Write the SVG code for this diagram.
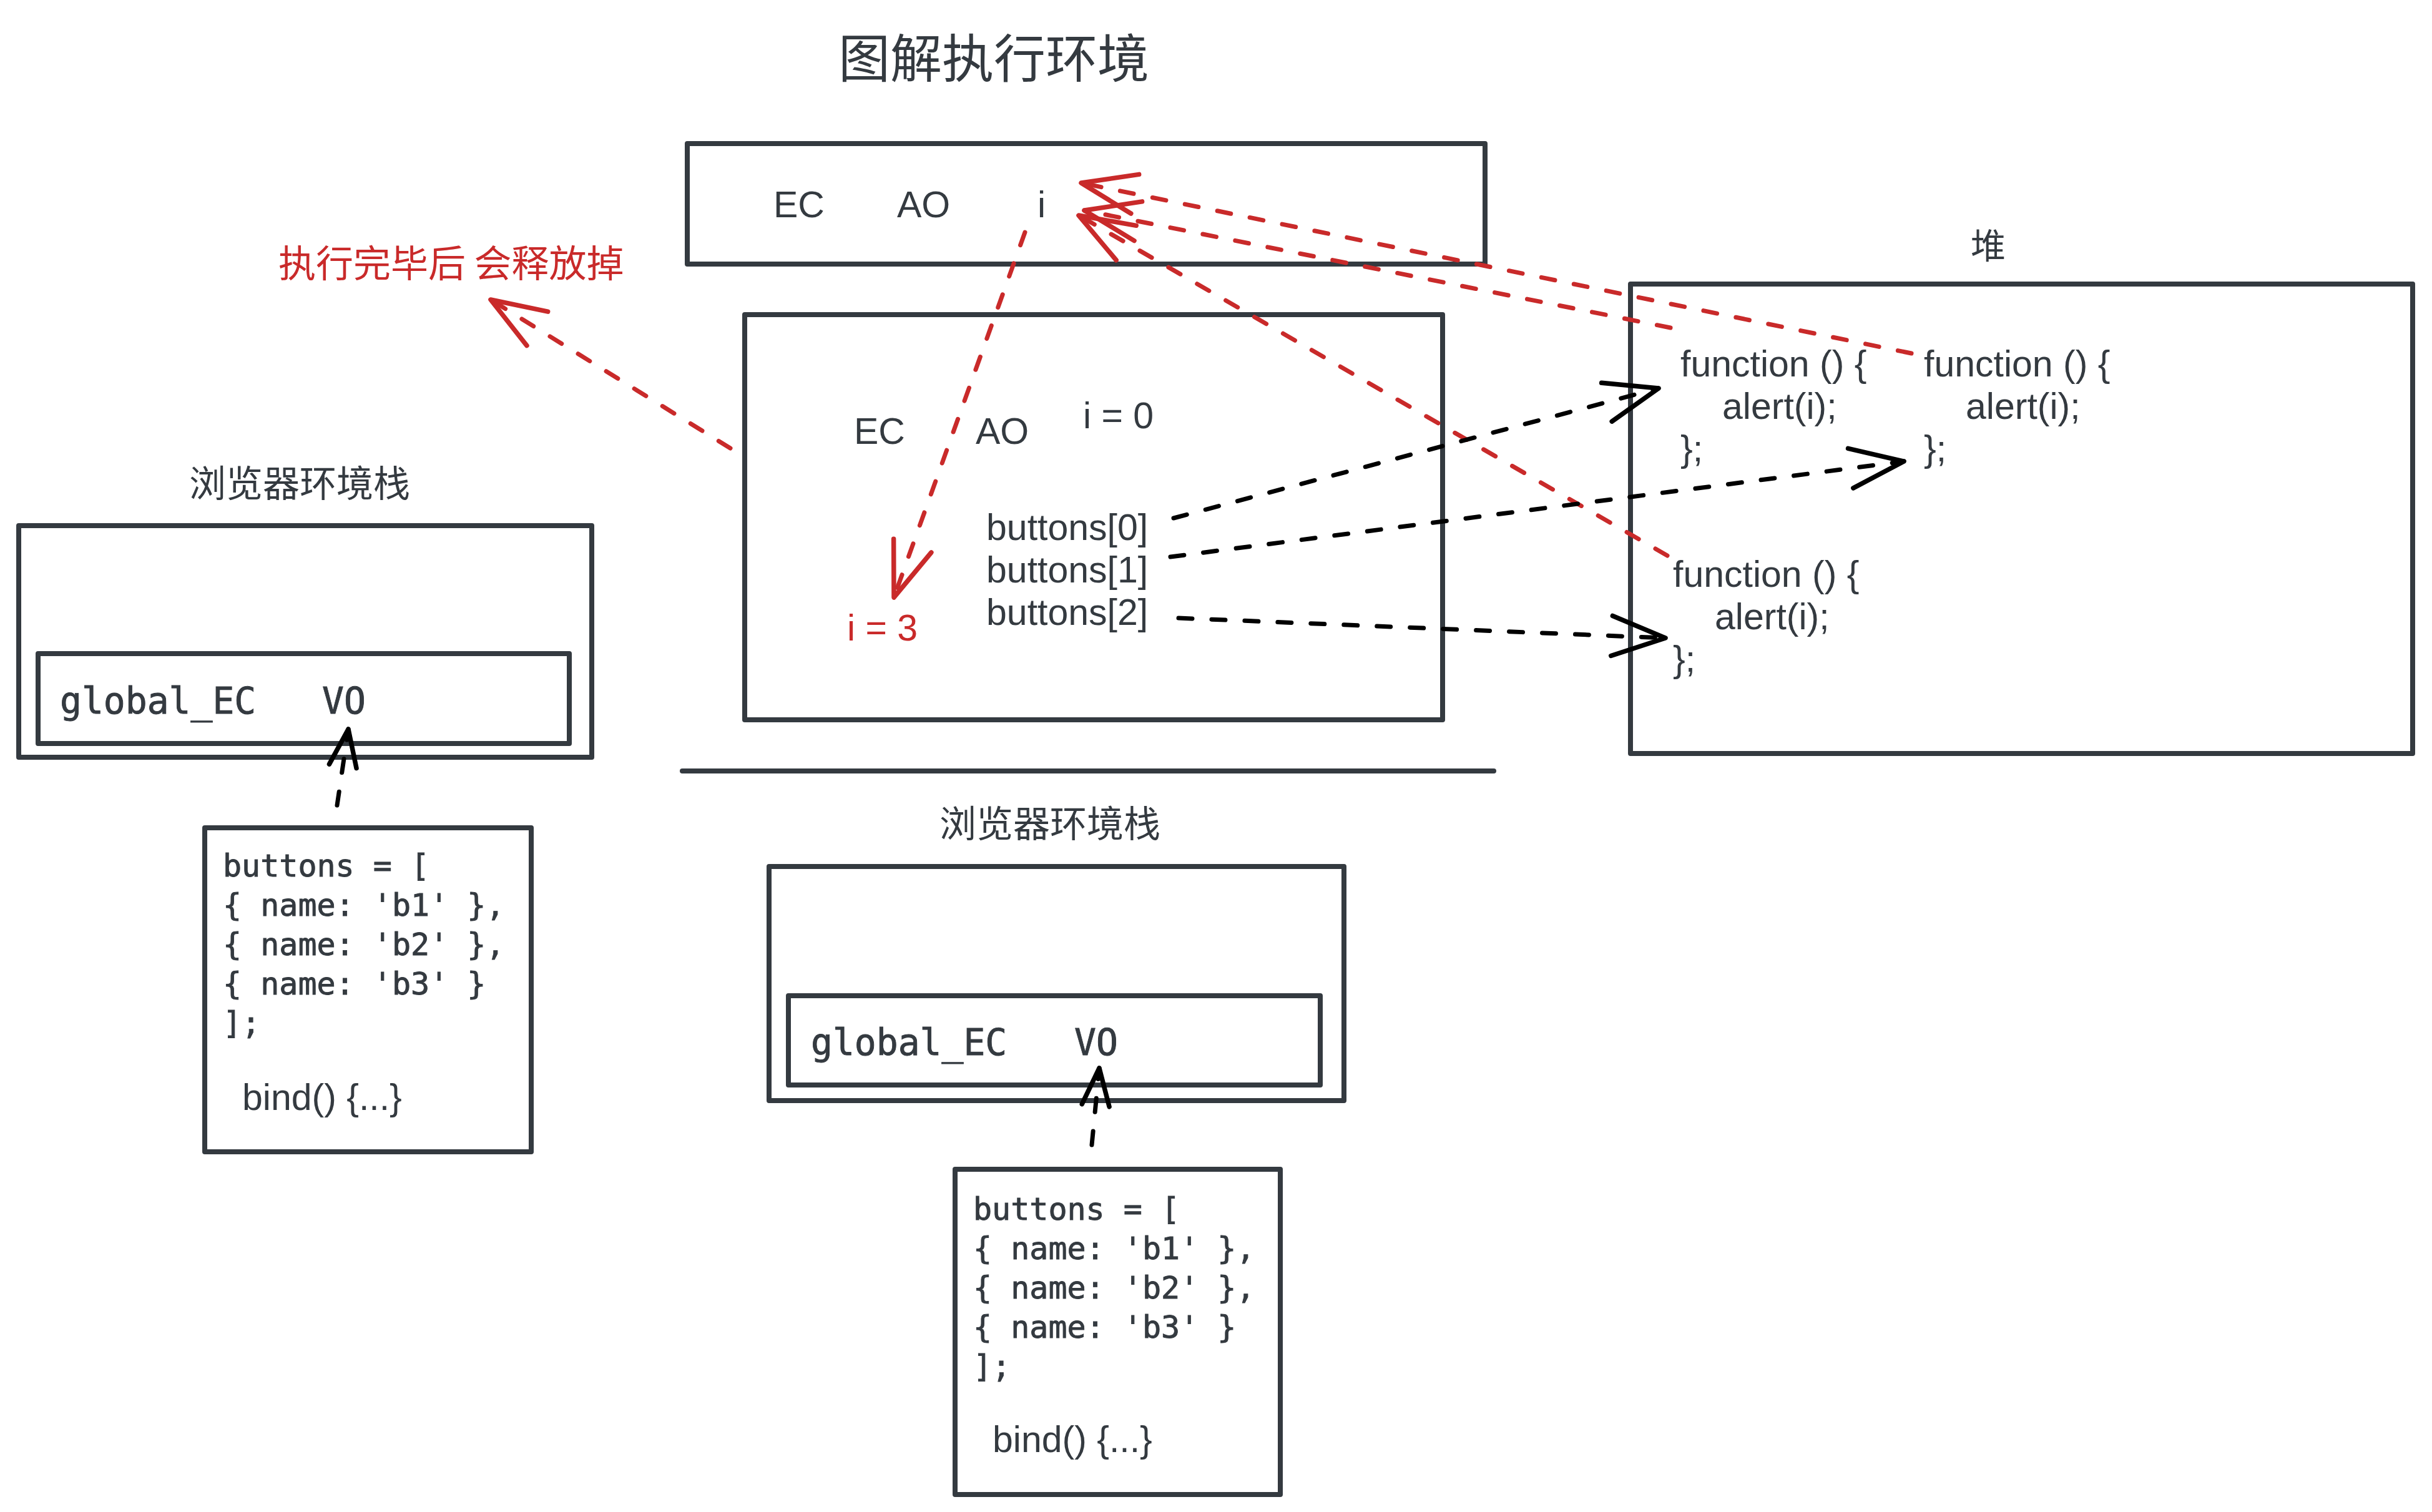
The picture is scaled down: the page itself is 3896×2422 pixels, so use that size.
<svg xmlns="http://www.w3.org/2000/svg" width="3896" height="2422" viewBox="0 0 3896 2422">
<style>
.box{fill:none;stroke:#343a40;stroke-width:8;stroke-linejoin:round;stroke-linecap:round}
.t{font-family:"Liberation Sans",Arial,sans-serif;font-size:59px;fill:#343a40}
.m{font-family:"DejaVu Sans Mono","Liberation Mono",monospace;fill:#343a40;stroke:#343a40;stroke-width:0.9}
.c{font-family:"Noto Sans CJK SC",sans-serif;fill:#343a40}
.red{fill:#c92a2a}
.dr{fill:none;stroke:#c92a2a;stroke-width:7;stroke-dasharray:22 31;stroke-linecap:round}
.db{fill:none;stroke:#000;stroke-width:7;stroke-dasharray:22 31;stroke-linecap:round}
</style>
<defs>
<marker id="ahR" markerUnits="userSpaceOnUse" orient="auto" overflow="visible" refX="0" refY="0" markerWidth="1" markerHeight="1">
<path d="M-88,-32 L0,0 L-88,32" fill="none" stroke="#c92a2a" stroke-width="7.5" stroke-dasharray="none" stroke-linecap="round" stroke-linejoin="round"/>
</marker>
<marker id="ahB" markerUnits="userSpaceOnUse" orient="auto" overflow="visible" refX="0" refY="0" markerWidth="1" markerHeight="1">
<path d="M-86,-32 L0,0 L-86,32" fill="none" stroke="#000" stroke-width="7.5" stroke-dasharray="none" stroke-linecap="round" stroke-linejoin="round"/>
</marker>
<marker id="ahBs" markerUnits="userSpaceOnUse" orient="auto" overflow="visible" refX="0" refY="0" markerWidth="1" markerHeight="1">
<path d="M-60,-22 L0,0 L-60,22" fill="none" stroke="#000" stroke-width="7.5" stroke-dasharray="none" stroke-linecap="round" stroke-linejoin="round"/>
</marker>
</defs>
<rect width="3896" height="2422" fill="#fff"/>

<g id="title"><text class="c" x="1343" y="124" font-size="83">图解执行环境</text></g>

<g id="release-note"><text class="c red" x="446" y="444" font-size="60">执行完毕后 会释放掉</text></g>

<g id="closure-ec">
<rect class="box" x="1101" y="230" width="1278" height="193"/>
<text class="t" x="1239" y="348">EC</text>
<text class="t" x="1437" y="348">AO</text>
<text class="t" x="1662" y="348">i</text>
</g>

<g id="bind-ec">
<rect class="box" x="1193" y="504" width="1118" height="649"/>
<text class="t" x="1368" y="711">EC</text>
<text class="t" x="1563" y="711">AO</text>
<text class="t" x="1735" y="686">i = 0</text>
<text class="t red" x="1357" y="1026">i = 3</text>
<text class="t" x="1580" y="865">buttons[0]</text>
<text class="t" x="1580" y="933">buttons[1]</text>
<text class="t" x="1580" y="1001">buttons[2]</text>
</g>

<g id="heap">
<text class="c" x="3157" y="414" font-size="56">堆</text>
<rect class="box" x="2612" y="455" width="1253" height="752"/>
<text class="t" x="2692" y="603">function () {</text>
<text class="t" x="2759" y="671">alert(i);</text>
<text class="t" x="2692" y="739">};</text>
<text class="t" x="3082" y="603">function () {</text>
<text class="t" x="3149" y="671">alert(i);</text>
<text class="t" x="3082" y="739">};</text>
<text class="t" x="2680" y="940">function () {</text>
<text class="t" x="2747" y="1008">alert(i);</text>
<text class="t" x="2680" y="1076">};</text>
</g>

<g id="stack-left">
<text class="c" x="303" y="796" font-size="59">浏览器环境栈</text>
<rect class="box" x="30" y="842" width="918" height="371"/>
<rect class="box" x="61" y="1047" width="851" height="144"/>
<text class="m" x="96" y="1143" font-size="58">global_EC</text>
<text class="m" x="516" y="1143" font-size="58">VO</text>
</g>

<g id="code-left">
<rect class="box" x="328" y="1326" width="523" height="519"/>
<text class="m" font-size="50"><tspan x="357" y="1404">buttons = [</tspan><tspan x="357" y="1467">{ name: 'b1' },</tspan><tspan x="357" y="1530">{ name: 'b2' },</tspan><tspan x="357" y="1593">{ name: 'b3' }</tspan><tspan x="357" y="1656">];</tspan></text>
<text class="t" x="388" y="1778" font-size="58">bind() {...}</text>
</g>

<g id="separator"><line class="box" x1="1093" y1="1235" x2="2393" y2="1235"/></g>

<g id="stack-bottom">
<text class="c" x="1505" y="1341" font-size="59">浏览器环境栈</text>
<rect class="box" x="1232" y="1388" width="921" height="375"/>
<rect class="box" x="1263" y="1595" width="852" height="143"/>
<text class="m" x="1299" y="1690" font-size="58">global_EC</text>
<text class="m" x="1721" y="1690" font-size="58">VO</text>
</g>

<g id="code-bottom">
<rect class="box" x="1530" y="1873" width="521" height="521"/>
<text class="m" font-size="50"><tspan x="1559" y="1954">buttons = [</tspan><tspan x="1559" y="2017">{ name: 'b1' },</tspan><tspan x="1559" y="2080">{ name: 'b2' },</tspan><tspan x="1559" y="2143">{ name: 'b3' }</tspan><tspan x="1559" y="2206">];</tspan></text>
<text class="t" x="1590" y="2326" font-size="58">bind() {...}</text>
</g>

<g id="connectors">
<path class="dr" d="M3062,566 L1732,293" marker-end="url(#ahR)"/>
<path class="dr" d="M2676,525 L1737,337" marker-end="url(#ahR)"/>
<path class="dr" d="M2671,890 L1728,345" marker-end="url(#ahR)"/>
<path class="dr" d="M1642,372 L1432,957" marker-end="url(#ahR)"/>
<path class="dr" d="M1170,718 L786,480" marker-end="url(#ahR)"/>
<path class="db" d="M1880,830 L2657,622" marker-end="url(#ahB)"/>
<path class="db" d="M1875,892 L3050,739" marker-end="url(#ahB)"/>
<path class="db" d="M1888,990 L2668,1022" marker-end="url(#ahB)"/>
<path class="db" d="M540,1290 L558,1168" marker-end="url(#ahBs)"/>
<path class="db" d="M1749,1834 L1761,1711" marker-end="url(#ahBs)"/>
</g>
</svg>
